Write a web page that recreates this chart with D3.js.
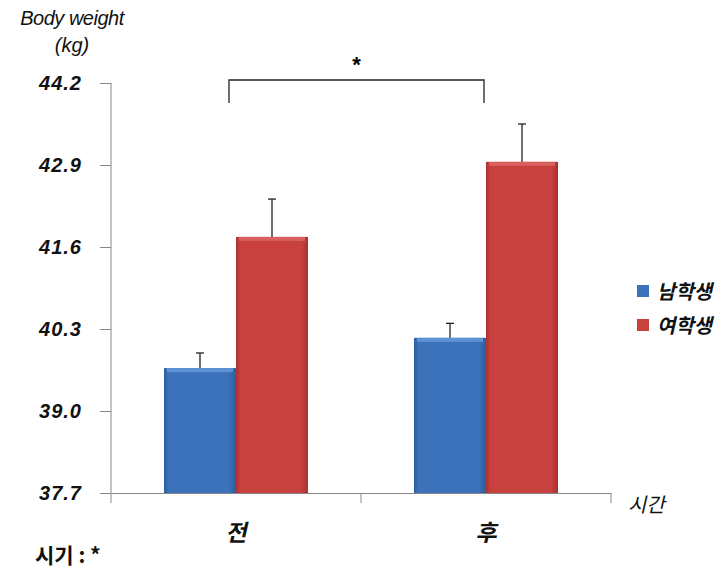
<!DOCTYPE html>
<html>
<head>
<meta charset="utf-8">
<script src="https://cdn.jsdelivr.net/npm/d3@7"></script>
<style>
  body { margin: 0; background: #fff; }
  svg { display: block; }
  text { font-family: "Liberation Sans", Arial, "Noto Sans CJK KR", sans-serif; }
  .kr { font-family: "Noto Sans CJK KR", sans-serif; }
</style>
</head>
<body>
<svg id="chart" width="727" height="568"></svg>
<script>
// data
const periods = ["전", "후"];
const groups = ["남학생", "여학생"];
const maleMeans = [39.68, 40.16];
const femaleMeans = [41.76, 42.95];
const maleErr = [0.24, 0.23];
const femaleErr = [0.60, 0.60];
const yTicks = [37.7, 39.0, 40.3, 41.6, 42.9, 44.2];

const rows = periods.map((p, i) => ({
  period: p,
  values: [
    { key: groups[0], value: maleMeans[i], err: maleErr[i] },
    { key: groups[1], value: femaleMeans[i], err: femaleErr[i] }
  ]
}));

const svg = d3.select("#chart");
const margin = { top: 83, right: 116, bottom: 75, left: 111 };
const width = 727 - margin.left - margin.right;
const height = 568 - margin.top - margin.bottom;

const defs = svg.append("defs");
function barGrad(id, mid, dark) {
  const g = defs.append("linearGradient").attr("id", id)
    .attr("x1", 0).attr("x2", 1).attr("y1", 0).attr("y2", 0);
  g.append("stop").attr("offset", "0%").attr("stop-color", dark);
  g.append("stop").attr("offset", "6%").attr("stop-color", mid);
  g.append("stop").attr("offset", "90%").attr("stop-color", mid);
  g.append("stop").attr("offset", "100%").attr("stop-color", dark);
}
barGrad("gBlue", "#3b72b9", "#2d5d9e");
barGrad("gRed", "#c9413f", "#a83230");

const color = d3.scaleOrdinal().domain(groups).range(["url(#gBlue)", "url(#gRed)"]);
const topColor = d3.scaleOrdinal().domain(groups).range(["#5d92d4", "#d8605d"]);
const swatch = d3.scaleOrdinal().domain(groups).range(["#3b72b9", "#c9413f"]);

const x0 = d3.scaleBand().domain(periods).range([0, width]);
const x1 = d3.scaleBand().domain(groups).range([0, 144]);
const y = d3.scaleLinear().domain([37.7, 44.2]).range([height, 0]);

const g = svg.append("g").attr("transform", "translate(" + margin.left + "," + margin.top + ")");

// italic look for Korean glyphs (CJK font has no italic face)
function slant(sel, x, yy) {
  sel.attr("transform", "translate(" + x + "," + yy + ") skewX(-13)");
}

// bars
const grp = g.selectAll(".grp").data(rows).enter().append("g")
  .attr("class", "grp")
  .attr("transform", d => "translate(" + (x0(d.period) + (x0.bandwidth() - 144) / 2) + ",0)");

grp.selectAll("rect.bar").data(d => d.values).enter().append("rect")
  .attr("class", "bar")
  .attr("x", d => x1(d.key))
  .attr("y", d => y(d.value))
  .attr("width", x1.bandwidth())
  .attr("height", d => height - y(d.value))
  .attr("fill", d => color(d.key));

grp.selectAll("rect.bevel").data(d => d.values).enter().append("rect")
  .attr("class", "bevel")
  .attr("x", d => x1(d.key) + 3)
  .attr("y", d => y(d.value))
  .attr("width", x1.bandwidth() - 6)
  .attr("height", 4)
  .attr("fill", d => topColor(d.key));

// error bars
grp.selectAll("g.err").data(d => d.values).enter().append("g")
  .attr("class", "err")
  .each(function(d) {
    const cx = x1(d.key) + x1.bandwidth() / 2;
    const s = d3.select(this);
    s.append("line").attr("x1", cx).attr("x2", cx)
      .attr("y1", y(d.value)).attr("y2", y(d.value + d.err))
      .attr("stroke", "#222").attr("stroke-width", 1.3);
    s.append("line").attr("x1", cx - 4).attr("x2", cx + 4)
      .attr("y1", y(d.value + d.err)).attr("y2", y(d.value + d.err))
      .attr("stroke", "#222").attr("stroke-width", 1.3);
  });

// axes
const yAxis = g.append("g")
  .call(d3.axisLeft(y).tickValues(yTicks).tickSize(11).tickPadding(18).tickFormat(d3.format(".1f")));
yAxis.select(".domain").attr("stroke", "#888").attr("d", "M0," + height + "V0");
yAxis.selectAll(".tick line").attr("stroke", "#888");
yAxis.selectAll(".tick text")
  .style("font-size", "20px").style("font-weight", "bold").style("font-style", "italic")
  .attr("fill", "#111").attr("letter-spacing", "1px");

const xAxis = g.append("g").attr("transform", "translate(0," + height + ")")
  .call(d3.axisBottom(x0).tickValues([]).tickSizeOuter(0));
xAxis.select(".domain").attr("stroke", "#888");
xAxis.selectAll(".sep").data(d3.range(periods.length + 1)).enter().append("line")
  .attr("class", "sep")
  .attr("x1", i => i * x0.bandwidth()).attr("x2", i => i * x0.bandwidth())
  .attr("y1", 0).attr("y2", 10).attr("stroke", "#888");

g.selectAll(".xlab").data(periods).enter().append("text")
  .attr("class", "xlab kr")
  .attr("text-anchor", "middle")
  .style("font-size", "23px").style("font-weight", "bold")
  .attr("fill", "#111")
  .each(function(d) { slant(d3.select(this), x0(d) + x0.bandwidth() / 2, height + 48); })
  .text(d => d);

// significance bracket
const bx1 = x0(periods[0]) + x0.bandwidth() / 2 - 7;
const bx2 = x0(periods[1]) + x0.bandwidth() / 2 - 2;
g.append("path")
  .attr("d", "M" + bx1 + "," + (y(44.2) + 20) + "V" + (y(44.2) - 3) + "H" + bx2 + "V" + (y(44.2) + 20))
  .attr("fill", "none").attr("stroke", "#222").attr("stroke-width", 1.3);
g.append("text")
  .attr("x", (bx1 + bx2) / 2).attr("y", y(44.2) - 11)
  .attr("text-anchor", "middle")
  .style("font-size", "22px").style("font-weight", "bold")
  .text("*");

// titles
svg.append("text").attr("x", 72).attr("y", 25).attr("text-anchor", "middle")
  .style("font-size", "20px").style("font-style", "italic").attr("fill", "#111")
  .attr("letter-spacing", "-0.5px")
  .text("Body weight");
svg.append("text").attr("x", 72).attr("y", 52).attr("text-anchor", "middle")
  .style("font-size", "20px").style("font-style", "italic").attr("fill", "#111")
  .text("(kg)");
svg.append("text").attr("class", "kr")
  .style("font-size", "20px").attr("fill", "#111")
  .call(s => slant(s, 628, 512))
  .text("시간");
svg.append("text").attr("class", "kr").attr("x", 35).attr("y", 563)
  .style("font-size", "21px").style("font-weight", "bold").attr("fill", "#111")
  .text("시기 : *");

// legend
const leg = svg.append("g").attr("transform", "translate(637,285)");
const li = leg.selectAll(".li").data(groups).enter().append("g")
  .attr("transform", (d, i) => "translate(0," + i * 34 + ")");
li.append("rect").attr("width", 12).attr("height", 12).attr("fill", d => swatch(d));
li.append("text").attr("class", "kr")
  .style("font-size", "20px").style("font-weight", "bold")
  .attr("fill", "#111")
  .call(s => slant(s, 20, 14))
  .text(d => d);
</script>
</body>
</html>
